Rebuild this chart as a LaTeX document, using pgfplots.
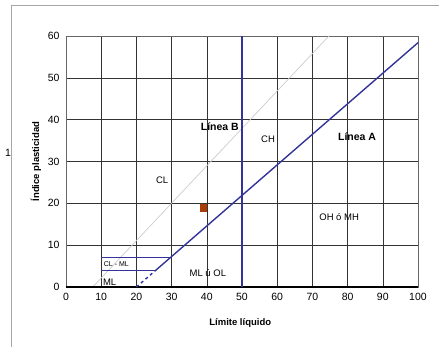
\documentclass[border=0pt]{standalone}
\usepackage{pgfplots}
\pgfplotsset{compat=1.18}
\usepackage{fontspec}
\setmainfont{Liberation Sans}
\definecolor{lineblue}{RGB}{51,51,153}
\definecolor{sqbrown}{RGB}{170,60,10}
\begin{document}
\begin{tikzpicture}
\useasboundingbox (0pt,0pt) rectangle (439pt,347pt);
\draw[gray!70, line width=0.8pt] (11pt,0pt) -- (11pt,342pt) -- (440pt,342pt);
\node[font=\fontsize{10.5}{12}\selectfont] at (8pt,194pt) {1};
\begin{axis}[
  at={(66pt,60pt)}, anchor=south west,
  scale only axis, width=352pt, height=251pt,
  xmin=0, xmax=100, ymin=0, ymax=60,
  xtick={0,10,...,100}, ytick={0,10,...,60},
  grid=major, major grid style={black!80, line width=0.6pt},
  axis line style={black!60, line width=0.6pt},
  tick style={draw=none},
  ticklabel style={font=\fontsize{10.5}{12}\selectfont},
  xticklabel style={yshift=-3pt},
  yticklabel style={xshift=-3pt},
  /pgf/number format/assume math mode=true,
  xlabel={\textbf{Límite líquido}},
  ylabel={\textbf{Índice plasticidad}},
  xlabel style={font=\fontsize{9.5}{11}\selectfont, at={(axis description cs:0.495,0)}, anchor=center, yshift=-36pt},
  ylabel style={font=\fontsize{9.5}{11}\selectfont, at={(axis description cs:0,0.5)}, anchor=center, xshift=0pt, yshift=30pt},
  clip=false,
]
% U line (gray)
\addplot[gray!40, line width=0.7pt] coordinates {(7.6,0) (74.7,60)};
% bottom axis thick
\addplot[black, line width=1.6pt] coordinates {(0,0) (100,0)};
% Line A
\addplot[lineblue, line width=1.4pt, dashed] coordinates {(20,0) (25.5,4)};
\addplot[lineblue, line width=1.4pt] coordinates {(25.5,4) (100,58.4)};
% Line B
\addplot[lineblue, line width=1.4pt] coordinates {(50,0) (50,60)};
% CL-ML band
\addplot[lineblue, line width=1.2pt] coordinates {(10,4) (25.5,4)};
\addplot[lineblue, line width=1.2pt] coordinates {(10,7) (29.6,7)};
% sample point
\addplot[only marks, mark=square*, mark size=3.2pt, color=sqbrown] coordinates {(39,19)};
% labels
\node[font=\fontsize{10.5}{12}\selectfont\bfseries] at (axis cs:43.7,38.2) {Línea B};
\node[font=\fontsize{10.5}{12}\selectfont\bfseries] at (axis cs:82.7,35.9) {Línea A};
\node[font=\fontsize{9.5}{11}\selectfont] at (axis cs:57.4,35.3) {CH};
\node[font=\fontsize{9.5}{11}\selectfont] at (axis cs:27.3,25.6) {CL};
\node[font=\fontsize{9.5}{11}\selectfont] at (axis cs:77.6,16.7) {OH ó MH};
\node[font=\fontsize{9.5}{11}\selectfont] at (axis cs:40.3,3.3) {ML ú OL};
\node[font=\fontsize{7}{8}\selectfont] at (axis cs:14.3,5.4) {CL - ML};
\node[font=\fontsize{9.5}{11}\selectfont] at (axis cs:12.4,1.2) {ML};
\end{axis}
\end{tikzpicture}
\end{document}
